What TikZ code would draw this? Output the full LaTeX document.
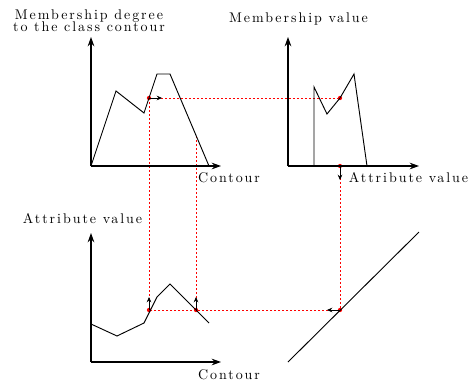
\documentclass[tikz,border=0pt]{standalone}
\usepackage{fontspec}
\setmainfont{Latin Modern Roman}[LetterSpace=14]
\usetikzlibrary{arrows.meta}
\begin{document}
\begin{tikzpicture}[x=0.75pt,y=-0.75pt,
  axis/.style={line width=0.8pt,-{Stealth[length=7pt,width=5pt]}},
  curve/.style={line width=0.7pt,line join=miter},
  guide/.style={red,line width=0.7pt,dash pattern=on 1.4pt off 1.6pt},
  dot/.style={circle,fill=red,inner sep=0pt,minimum size=3.2pt},
  small/.style={line width=0.6pt,-{Stealth[length=4pt,width=3.5pt]}},
  lab/.style={font=\fontsize{10.5}{11}\selectfont,inner sep=0pt}]
\useasboundingbox (0,0) rectangle (469,383);
% origins
\coordinate (o1) at (91,166);
\coordinate (o2) at (288,166);
\coordinate (o3) at (91,362);
\coordinate (y1) at (91,37);
\coordinate (x1) at (221,166);
\coordinate (y2) at (288,37);
\coordinate (x2) at (419,166);
\coordinate (y3) at (91,233);
\coordinate (x3) at (221,362);
% points
\node[dot] (p1) at (149,98) {};
\node[dot] (p2) at (340,98) {};
\node[dot] (p3) at (340,166) {};
\node[dot] (p4) at (340,310) {};
\node[dot] (p5) at (149,310) {};
\node[dot] (p6) at (196,310) {};
\coordinate (q6) at (196,136);
% guides
\draw[guide] (p1.center) -- (p2.center);
\draw[guide] (p3.center) -- (p4.center);
\draw[guide] (p4.center) -- (p5.center);
\draw[guide] (p1.center) -- (p5.center);
\draw[guide] (q6) -- (p6.center);
% axes
\draw[axis] (o1) -- (y1);
\draw[axis] (o1) -- (x1);
\draw[axis] (o2) -- (y2);
\draw[axis] (o2) -- (x2);
\draw[axis] (o3) -- (y3);
\draw[axis] (o3) -- (x3);
% curves
\draw[curve] (o1) -- (116,91) -- (144,113) -- (157,74) -- (170,74) -- (209,166);
\draw[curve] (314,166) -- (314,87) -- (327,114) -- (p2.center) -- (354,74) -- (367,166);
\draw[curve] (91,324) -- (117,336) -- (144,323) -- (157,297) -- (170,284) -- (209,323);
\coordinate (d1) at (288,362);
\coordinate (d2) at (419,232);
\draw[curve] (d1) -- (d2);
% small arrows
\coordinate (a1) at (162,98);
\coordinate (a3) at (340,180);
\coordinate (a4) at (327,310);
\coordinate (a5) at (149,297);
\coordinate (a6) at (196,297);
\draw[small] (p1.center) -- (a1);
\draw[small] (p3.center) -- (a3);
\draw[small] (p4.center) -- (a4);
\draw[small] (p5.center) -- (a5);
\draw[small] (p6.center) -- (a6);
% labels
\node[lab,align=center] (l1) at (89,21) {Membership degree\\[-2pt]to the class contour};
\node[lab] (l2) at (298.5,19) {Membership value};
\node[lab] (l3) at (229,178) {Contour};
\node[lab] (l4) at (408.5,178) {Attribute value};
\node[lab] (l5) at (82.5,219) {Attribute value};
\node[lab] (l6) at (229,375) {Contour};
\end{tikzpicture}
\end{document}
